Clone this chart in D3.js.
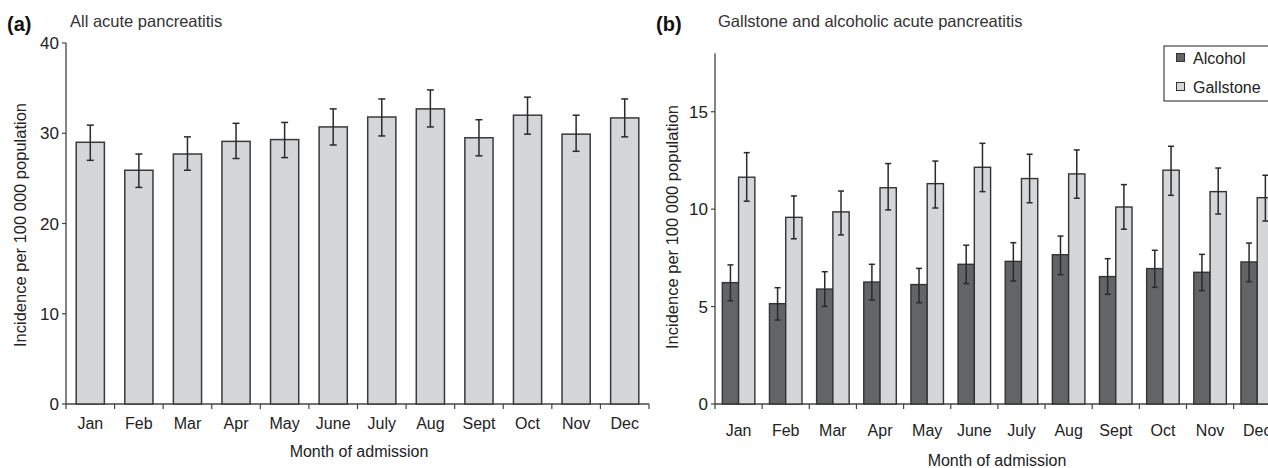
<!DOCTYPE html>
<html>
<head>
<meta charset="utf-8">
<script src="https://cdn.jsdelivr.net/npm/d3@7"></script>
<style>
  body { margin: 0; background: #fff; }
  svg { font-family: "Liberation Sans", Arial, Helvetica, sans-serif; }
</style>
</head>
<body>
<div id="plot"></div>
<script>
// months on the x axis of both panels
const months = ["Jan","Feb","Mar","Apr","May","June","July","Aug","Sept","Oct","Nov","Dec"];

// (a) all acute pancreatitis, with 95% CI
const allRate  = [29.0, 25.9, 27.7, 29.1, 29.3, 30.7, 31.8, 32.7, 29.5, 32.0, 29.9, 31.7];
const allLow   = [27.0, 24.0, 25.9, 27.2, 27.3, 28.7, 29.7, 30.7, 27.5, 29.9, 28.0, 29.6];
const allHigh  = [30.9, 27.7, 29.6, 31.1, 31.2, 32.7, 33.8, 34.8, 31.5, 34.0, 32.0, 33.8];

// (b) alcohol vs gallstone
const alcRate  = [6.23, 5.15, 5.90, 6.26, 6.13, 7.17, 7.32, 7.66, 6.54, 6.95, 6.76, 7.29];
const alcLow   = [5.30, 4.31, 5.01, 5.34, 5.20, 6.18, 6.31, 6.64, 5.63, 5.99, 5.82, 6.28];
const alcHigh  = [7.14, 5.97, 6.79, 7.17, 6.96, 8.15, 8.28, 8.62, 7.46, 7.89, 7.68, 8.26];
const galRate  = [11.64, 9.58, 9.86, 11.10, 11.31, 12.15, 11.57, 11.81, 10.11, 12.00, 10.90, 10.59];
const galLow   = [10.41, 8.48, 8.68, 9.96, 10.06, 10.90, 10.33, 10.56, 8.97, 10.71, 9.75, 9.39];
const galHigh  = [12.90, 10.68, 10.93, 12.34, 12.47, 13.38, 12.82, 13.04, 11.26, 13.23, 12.11, 11.74];

const seriesB = ["Alcohol", "Gallstone"];
const ticksA = [0, 10, 20, 30, 40];
const ticksB = [0, 5, 10, 15];

const width = 1268, height = 468;
const ink = "#333";
const fs = 16;

const svg = d3.select("#plot")
  .append("svg")
    .attr("width", width)
    .attr("height", height)
    .attr("viewBox", `0 0 ${width} ${height}`);

const drawAxes = (x, y, ticks, labelY, cx, titleY, ylabX, ylabY) => {
  const x0 = x.range()[0], x1 = x.range()[1], y0 = y(0);
  const g = svg.append("g");
  // y axis
  g.append("line").attr("x1", x0).attr("x2", x0)
    .attr("y1", y0).attr("y2", y.range()[1])
    .attr("stroke", "#444").attr("stroke-width", 1.3);
  g.selectAll(".yt").data(ticks).join("line")
    .attr("x1", x0 - 4).attr("x2", x0)
    .attr("y1", d => y(d)).attr("y2", d => y(d))
    .attr("stroke", "#444").attr("stroke-width", 1.2);
  g.selectAll(".yl").data(ticks).join("text")
    .attr("x", x0 - 7).attr("y", d => y(d) + 6)
    .attr("text-anchor", "end").attr("font-size", fs + 1).attr("fill", "#222")
    .text(d => d);
  // x axis with ticks at band edges
  g.append("line").attr("x1", x0).attr("x2", x1)
    .attr("y1", y0).attr("y2", y0)
    .attr("stroke", "#444").attr("stroke-width", 1.6);
  const edges = months.map(m => x(m)).concat([x1]);
  g.selectAll(".xt").data(edges).join("line")
    .attr("x1", d => d).attr("x2", d => d)
    .attr("y1", y0).attr("y2", y0 + 5)
    .attr("stroke", "#444").attr("stroke-width", 1.2);
  g.selectAll(".xl").data(months).join("text")
    .attr("x", d => x(d) + x.bandwidth() / 2).attr("y", labelY)
    .attr("text-anchor", "middle").attr("font-size", fs).attr("fill", "#222")
    .text(d => d);
  g.append("text").attr("x", cx).attr("y", titleY)
    .attr("text-anchor", "middle").attr("font-size", fs).attr("fill", "#222")
    .text("Month of admission");
  g.append("text")
    .attr("transform", `translate(${ylabX},${ylabY}) rotate(-90)`)
    .attr("text-anchor", "middle").attr("font-size", 16.5).attr("fill", "#222")
    .text("Incidence per 100 000 population");
};

const errBars = (g, xs, lows, highs, y, cap) => {
  const eb = g.append("g").attr("stroke", "#2a2a2a").attr("stroke-width", 1.5);
  xs.forEach((cx, i) => {
    eb.append("line").attr("x1", cx).attr("x2", cx)
      .attr("y1", y(lows[i])).attr("y2", y(highs[i]));
    eb.append("line").attr("x1", cx - cap).attr("x2", cx + cap)
      .attr("y1", y(highs[i])).attr("y2", y(highs[i]));
    eb.append("line").attr("x1", cx - cap).attr("x2", cx + cap)
      .attr("y1", y(lows[i])).attr("y2", y(lows[i]));
  });
};

/* ---------- panel (a) ---------- */
const xA = d3.scaleBand().domain(months).range([66, 649]);
const yA = d3.scaleLinear().domain([0, 40]).range([404, 43]);
drawAxes(xA, yA, ticksA, 428.5, 359, 457, 25.5, 225);

const barWA = xA.bandwidth() * 0.58;
const pa = svg.append("g");
pa.selectAll("rect").data(allRate).join("rect")
  .attr("x", (d, i) => xA(months[i]) + (xA.bandwidth() - barWA) / 2)
  .attr("y", d => yA(d))
  .attr("width", barWA)
  .attr("height", d => yA(0) - yA(d))
  .attr("fill", "#d5d6d8")
  .attr("stroke", "#3a3a3a").attr("stroke-width", 1.5);
errBars(pa, months.map(m => xA(m) + xA.bandwidth() / 2), allLow, allHigh, yA, 3.5);

svg.append("text").attr("x", 7).attr("y", 31)
  .attr("font-size", 20).attr("font-weight", "bold").attr("fill", "#111").text("(a)");
svg.append("text").attr("x", 70).attr("y", 27)
  .attr("font-size", 16.5).attr("fill", ink).text("All acute pancreatitis");

/* ---------- panel (b) ---------- */
const xB = d3.scaleBand().domain(months).range([715, 715 + 12 * 47.15]);
const yB = d3.scaleLinear().domain([0, 18]).range([404, 53.3]);
drawAxes(xB, yB, ticksB, 436, 997, 466, 678, 227);

const pairW = xB.bandwidth() * 0.69;
const x1B = d3.scaleBand().domain(seriesB).range([0, pairW]);
const colorB = d3.scaleOrdinal().domain(seriesB).range(["#636466", "#d5d6d8"]);
const off = (xB.bandwidth() - pairW) / 2;

const pb = svg.append("g");
const drawSeries = (name, vals, lows, highs) => {
  const xs = months.map(m => xB(m) + off + x1B(name));
  pb.append("g").selectAll("rect").data(vals).join("rect")
    .attr("x", (d, i) => xs[i])
    .attr("y", d => yB(d))
    .attr("width", x1B.bandwidth())
    .attr("height", d => yB(0) - yB(d))
    .attr("fill", colorB(name))
    .attr("stroke", "#333").attr("stroke-width", 1.4);
  errBars(pb, xs.map(v => v + x1B.bandwidth() / 2), lows, highs, yB, 3);
};
drawSeries("Alcohol", alcRate, alcLow, alcHigh);
drawSeries("Gallstone", galRate, galLow, galHigh);

svg.append("text").attr("x", 656).attr("y", 31)
  .attr("font-size", 20).attr("font-weight", "bold").attr("fill", "#111").text("(b)");
svg.append("text").attr("x", 718).attr("y", 27)
  .attr("font-size", 16.5).attr("fill", ink).text("Gallstone and alcoholic acute pancreatitis");

// legend
const lg = svg.append("g").attr("transform", "translate(1164,46)");
lg.append("rect").attr("width", 130).attr("height", 55)
  .attr("fill", "#fff").attr("stroke", "#444").attr("stroke-width", 1.2);
lg.selectAll(".sw").data(seriesB).join("rect")
  .attr("x", 12.5).attr("y", (d, i) => 7.5 + i * 29)
  .attr("width", 8).attr("height", 8)
  .attr("fill", d => colorB(d)).attr("stroke", "#333").attr("stroke-width", 1);
lg.selectAll(".lt").data(seriesB).join("text")
  .attr("x", 29).attr("y", (d, i) => 17.5 + i * 29)
  .attr("font-size", fs).attr("fill", "#222")
  .text(d => d);
</script>
</body>
</html>
